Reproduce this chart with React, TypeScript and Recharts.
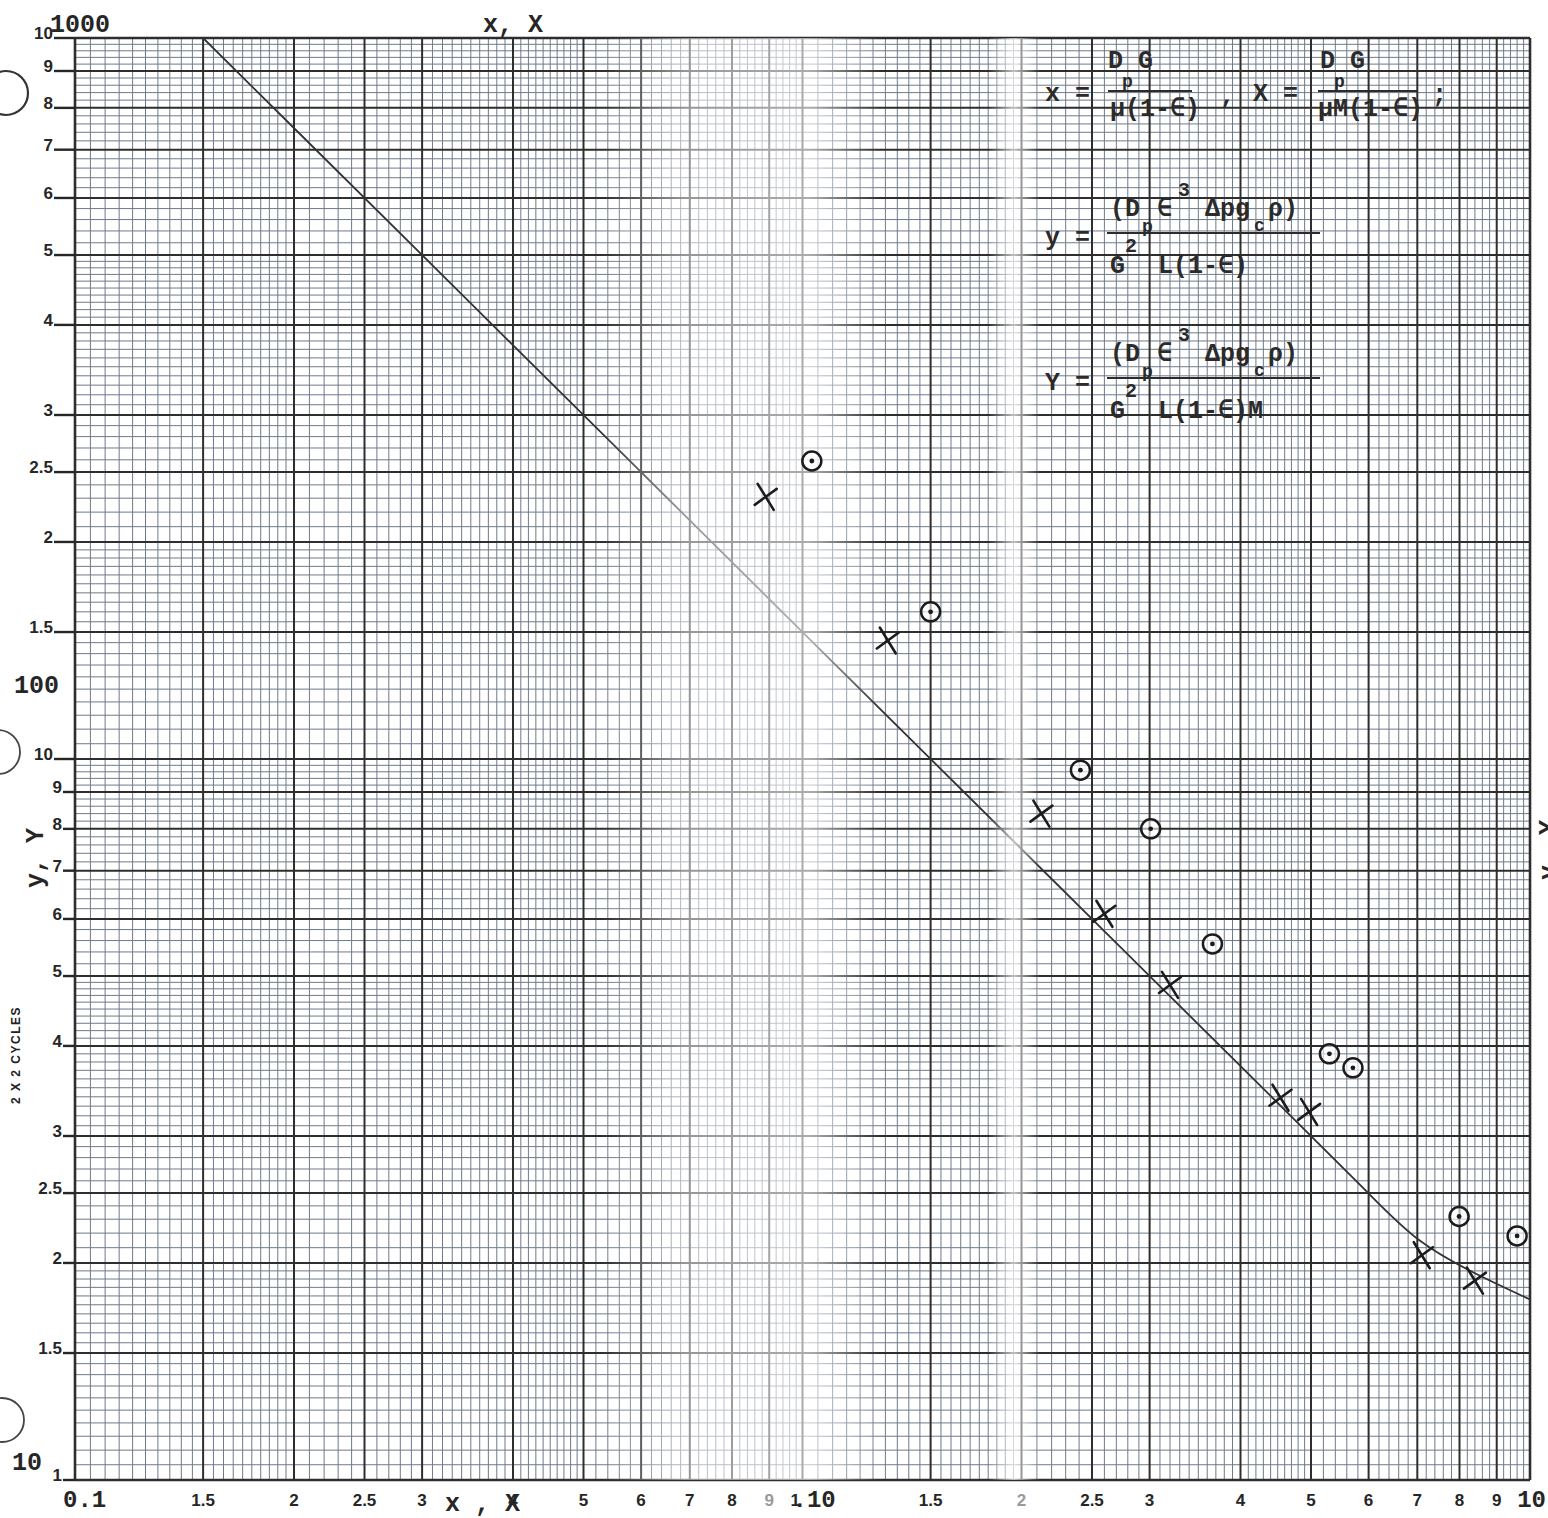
import React from "react";
import { ComposedChart, XAxis, YAxis, Scatter, Line, ReferenceLine, ReferenceArea } from "recharts";

// axis ticks printed on the paper (2 x 2 cycles)
const xTicks = [0.1, 0.15, 0.2, 0.25, 0.3, 0.4, 0.5, 0.6, 0.7, 0.8, 0.9, 1, 1.5, 2, 2.5, 3, 4, 5, 6, 7, 8, 9, 10];
const yTicks = [10, 15, 20, 25, 30, 40, 50, 60, 70, 80, 90, 100, 150, 200, 250, 300, 400, 500, 600, 700, 800, 900, 1000];

// measured points: x marks and circled points
const crossPoints = [
  { x: 0.89, y: 231 },
  { x: 1.31, y: 146 },
  { x: 2.13, y: 84 },
  { x: 2.6, y: 61 },
  { x: 3.2, y: 48.6 },
  { x: 4.54, y: 33.9 },
  { x: 4.97, y: 32.4 },
  { x: 7.1, y: 20.5 },
  { x: 8.4, y: 18.9 },
];
const circlePoints = [
  { x: 1.03, y: 259 },
  { x: 1.5, y: 160 },
  { x: 2.41, y: 96.5 },
  { x: 3.01, y: 80 },
  { x: 3.66, y: 55.4 },
  { x: 5.3, y: 39 },
  { x: 5.71, y: 37.3 },
  { x: 7.99, y: 23.2 },
  { x: 9.6, y: 21.8 },
];

// hand drawn correlation line
const fitLine = [
  { x: 0.15, y: 1000 },
  { x: 1, y: 150 },
  { x: 3, y: 50 },
  { x: 5, y: 30 },
  { x: 6, y: 25 },
  { x: 7, y: 21.3 },
  { x: 8.5, y: 19.2 },
  { x: 10, y: 17.8 },
];

// graph paper rulings within one decade (mantissa)
const heavyMantissas = [1, 1.5, 2, 2.5, 3, 4, 5, 6, 7, 8, 9];
const fineMantissas: number[] = [];
for (let i = 100; i < 200; i += 5) fineMantissas.push(i / 100);
for (let i = 200; i < 500; i += 10) fineMantissas.push(i / 100);
for (let i = 500; i < 1000; i += 20) fineMantissas.push(i / 100);

const spread = (decades: number[], ms: number[]) =>
  decades.flatMap((d) => ms.map((m) => +(d * m).toPrecision(6)));

const xHeavy = [...spread([0.1, 1], heavyMantissas), 10];
const yHeavy = [...spread([10, 100], heavyMantissas), 1000];
const xFine = spread([0.1, 1], fineMantissas).filter((v) => !xHeavy.includes(v));
const yFine = spread([10, 100], fineMantissas).filter((v) => !yHeavy.includes(v));

const typed = "'Liberation Mono', 'DejaVu Sans Mono', monospace";
const printed = "'Liberation Sans', Arial, sans-serif";
const ink = "#262626";
const fineColor = "#6f7a8a";

const mantissaLabel = (v: number) => {
  const m = +(v / Math.pow(10, Math.floor(Math.log10(v) + 1e-9))).toPrecision(3);
  return String(m);
};

const YTick = (props: any) => {
  const { x, y, payload } = props;
  const v = payload.value;
  let label = mantissaLabel(v);
  if (v === 10) label = "1";
  else if (label === "1") label = "10";
  const len = v >= 100 ? 21 : 12;
  return (
    <g>
      <line x1={x - len} x2={x} y1={y} y2={y} stroke={ink} strokeWidth={2.4} />
      <text x={x - len - 1} y={y + 1} textAnchor="end" fontFamily={printed} fontWeight={700} fontSize={17} fill={ink}>
        {label}
      </text>
    </g>
  );
};

const XTick = (props: any) => {
  const { x, y, payload } = props;
  const v = payload.value;
  if (v === 0.1)
    return (
      <text x={x - 12} y={y + 27} fontFamily={typed} fontWeight={700} fontSize={24} fill={ink}>
        0.1
      </text>
    );
  if (v === 1)
    return (
      <g>
        <text x={x - 12} y={y + 26} fontFamily={printed} fontWeight={700} fontSize={17} fill={ink}>1</text>
        <text x={x - 10} y={y + 27} fontFamily={typed} fontWeight={700} fontSize={24} fill={ink}>.10</text>
      </g>
    );
  if (v === 10)
    return (
      <text x={x + 16} y={y + 27} textAnchor="end" fontFamily={typed} fontWeight={700} fontSize={24} fill={ink}>
        10
      </text>
    );
  const faded = v === 0.9 || v === 2;
  return (
    <text x={x} y={y + 26} textAnchor="middle" fontFamily={printed} fontWeight={700} fontSize={17} fill={faded ? "#9a9a9a" : ink}>
      {mantissaLabel(v)}
    </text>
  );
};

const CrossMark = (p: any) => {
  const { cx, cy } = p;
  return (
    <g stroke="#1c1c1c" strokeWidth={2.6} strokeLinecap="round">
      <line x1={cx - 8} y1={cy - 13} x2={cx + 8} y2={cy + 13} />
      <line x1={cx + 11} y1={cy - 8} x2={cx - 11} y2={cy + 8} />
    </g>
  );
};

const CircleMark = (p: any) => {
  const { cx, cy } = p;
  return (
    <g>
      <circle cx={cx} cy={cy} r={9.5} fill="#fff" fillOpacity={0.6} stroke="#1c1c1c" strokeWidth={2.5} />
      <circle cx={cx} cy={cy} r={2.4} fill="#1c1c1c" />
    </g>
  );
};

const T = (p: { x: number; y: number; s?: number; children: React.ReactNode }) => (
  <text x={p.x} y={p.y} fontFamily={typed} fontWeight={700} fontSize={p.s ?? 25} fill="#2b2b2b">
    {p.children}
  </text>
);

const Formulas = () => (
  <g>
    {/* x and X */}
    <T x={1045} y={101}>x =</T>
    <T x={1108} y={68}>D G</T>
    <T x={1122} y={87} s={18}>p</T>
    <line x1={1108} x2={1192} y1={91} y2={91} stroke="#2b2b2b" strokeWidth={2} />
    <T x={1110} y={116}>μ(1-∈)</T>
    <T x={1220} y={103}>,</T>
    <T x={1253} y={101}>X =</T>
    <T x={1320} y={68}>D G</T>
    <T x={1334} y={87} s={18}>p</T>
    <line x1={1318} x2={1418} y1={91} y2={91} stroke="#2b2b2b" strokeWidth={2} />
    <T x={1318} y={116}>μM(1-∈)</T>
    <T x={1432} y={102}>;</T>
    {/* y */}
    <T x={1045} y={245}>y =</T>
    <T x={1110} y={216}>(D</T>
    <T x={1142} y={232} s={18}>p</T>
    <T x={1157} y={216}>∈</T>
    <T x={1178} y={196} s={20}>3</T>
    <T x={1205} y={216}>Δpg</T>
    <T x={1254} y={231} s={18}>c</T>
    <T x={1268} y={216}>ρ)</T>
    <line x1={1107} x2={1320} y1={233} y2={233} stroke="#2b2b2b" strokeWidth={2} />
    <T x={1110} y={273}>G</T>
    <T x={1125} y={252} s={20}>2</T>
    <T x={1158} y={273}>L(1-∈)</T>
    {/* Y */}
    <T x={1045} y={390}>Y =</T>
    <T x={1110} y={361}>(D</T>
    <T x={1142} y={377} s={18}>p</T>
    <T x={1157} y={361}>∈</T>
    <T x={1178} y={341} s={20}>3</T>
    <T x={1205} y={361}>Δpg</T>
    <T x={1254} y={376} s={18}>c</T>
    <T x={1268} y={361}>ρ)</T>
    <line x1={1107} x2={1320} y1={378} y2={378} stroke="#2b2b2b" strokeWidth={2} />
    <T x={1110} y={418}>G</T>
    <T x={1125} y={397} s={20}>2</T>
    <T x={1158} y={418}>L(1-∈)M</T>
  </g>
);

const Overlay = () => (
  <svg width={1548} height={1518} style={{ position: "absolute", left: 0, top: 0, pointerEvents: "none" }}>
    <Formulas />
    <text x={50} y={32} fontFamily={typed} fontWeight={700} fontSize={25} fill={ink}>1000</text>
    <text x={483} y={32} fontFamily={typed} fontWeight={700} fontSize={25} fill={ink}>x, X</text>
    <text x={14} y={693} fontFamily={typed} fontWeight={700} fontSize={25} fill={ink}>100</text>
    <text x={12} y={1470} fontFamily={typed} fontWeight={700} fontSize={25} fill={ink}>10</text>
    <text x={445} y={1511} fontFamily={typed} fontWeight={700} fontSize={25} fill={ink}>x , X</text>
    <text transform="translate(43,858) rotate(-90)" textAnchor="middle" fontFamily={typed} fontWeight={700} fontSize={25} fill={ink}>y, Y</text>
    <text transform="translate(1556,850) rotate(-90)" textAnchor="middle" fontFamily={typed} fontWeight={700} fontSize={25} fill={ink}>y, Y</text>
    <text transform="translate(20,1055) rotate(-90)" textAnchor="middle" fontFamily={printed} fontWeight={700} fontSize={12} letterSpacing={1.5} fill="#222">2 X 2 CYCLES</text>
    <circle cx={6} cy={93} r={22} fill="#fff" stroke="#333" strokeWidth={2.2} />
    <circle cx={-2} cy={752} r={22} fill="#fff" stroke="#444" strokeWidth={1.8} />
    <circle cx={2} cy={1420} r={22} fill="#fff" stroke="#444" strokeWidth={1.8} />
  </svg>
);

export default function App() {
  return (
    <div style={{ position: "absolute", left: 0, top: 0, width: 1548, height: 1518, background: "#fff", overflow: "hidden" }}>
      <svg width={0} height={0} style={{ position: "absolute" }}>
        <defs>
          <linearGradient id="wash1" x1="0" x2="1" y1="0" y2="0">
            <stop offset="0" stopColor="#fff" stopOpacity={0} />
            <stop offset="0.3" stopColor="#fff" stopOpacity={0.5} />
            <stop offset="0.75" stopColor="#fff" stopOpacity={0.6} />
            <stop offset="1" stopColor="#fff" stopOpacity={0} />
          </linearGradient>
          <linearGradient id="wash2" x1="0" x2="1" y1="0" y2="0">
            <stop offset="0" stopColor="#fff" stopOpacity={0} />
            <stop offset="0.5" stopColor="#fff" stopOpacity={0.7} />
            <stop offset="1" stopColor="#fff" stopOpacity={0} />
          </linearGradient>
        </defs>
      </svg>
      <ComposedChart width={1548} height={1518} data={fitLine} margin={{ top: 38, right: 18, bottom: 0, left: 0 }}>
        <XAxis
          dataKey="x"
          type="number"
          scale="log"
          domain={[0.1, 10]}
          allowDataOverflow
          ticks={xTicks}
          interval={0}
          height={38}
          tickSize={0}
          tickMargin={0}
          axisLine={false}
          tickLine={false}
          tick={<XTick />}
        />
        <YAxis
          dataKey="y"
          type="number"
          scale="log"
          domain={[10, 1000]}
          allowDataOverflow
          ticks={yTicks}
          interval={0}
          width={75}
          tickSize={0}
          tickMargin={0}
          axisLine={false}
          tickLine={false}
          tick={<YTick />}
        />
        {xFine.map((v) => (
          <ReferenceLine key={"xf" + v} x={v} stroke={fineColor} strokeWidth={1} ifOverflow="visible" zIndex={-50} />
        ))}
        {yFine.map((v) => (
          <ReferenceLine key={"yf" + v} y={v} stroke={fineColor} strokeWidth={1} ifOverflow="visible" zIndex={-50} />
        ))}
        {xHeavy.map((v) => (
          <ReferenceLine key={"xh" + v} x={v} stroke="#2e2e2e" strokeWidth={v === 0.1 || v === 10 ? 2.6 : 2} ifOverflow="visible" zIndex={-40} />
        ))}
        {yHeavy.map((v) => (
          <ReferenceLine key={"yh" + v} y={v} stroke="#2e2e2e" strokeWidth={v === 10 || v === 1000 ? 2.6 : 2} ifOverflow="visible" zIndex={-40} />
        ))}
        <Line dataKey="y" type="basis" stroke="#333" strokeWidth={1.8} dot={false} isAnimationActive={false} zIndex={-20} />
        <ReferenceArea x1={0.53} x2={1.28} y1={10} y2={1000} fill="url(#wash1)" fillOpacity={1} stroke="none" ifOverflow="visible" zIndex={-10} />
        <ReferenceArea x1={1.8} x2={2.12} y1={10} y2={1000} fill="url(#wash2)" fillOpacity={1} stroke="none" ifOverflow="visible" zIndex={-10} />
        <Scatter data={crossPoints} dataKey="y" shape={<CrossMark />} isAnimationActive={false} />
        <Scatter data={circlePoints} dataKey="y" shape={<CircleMark />} isAnimationActive={false} />
      </ComposedChart>
      <Overlay />
    </div>
  );
}
